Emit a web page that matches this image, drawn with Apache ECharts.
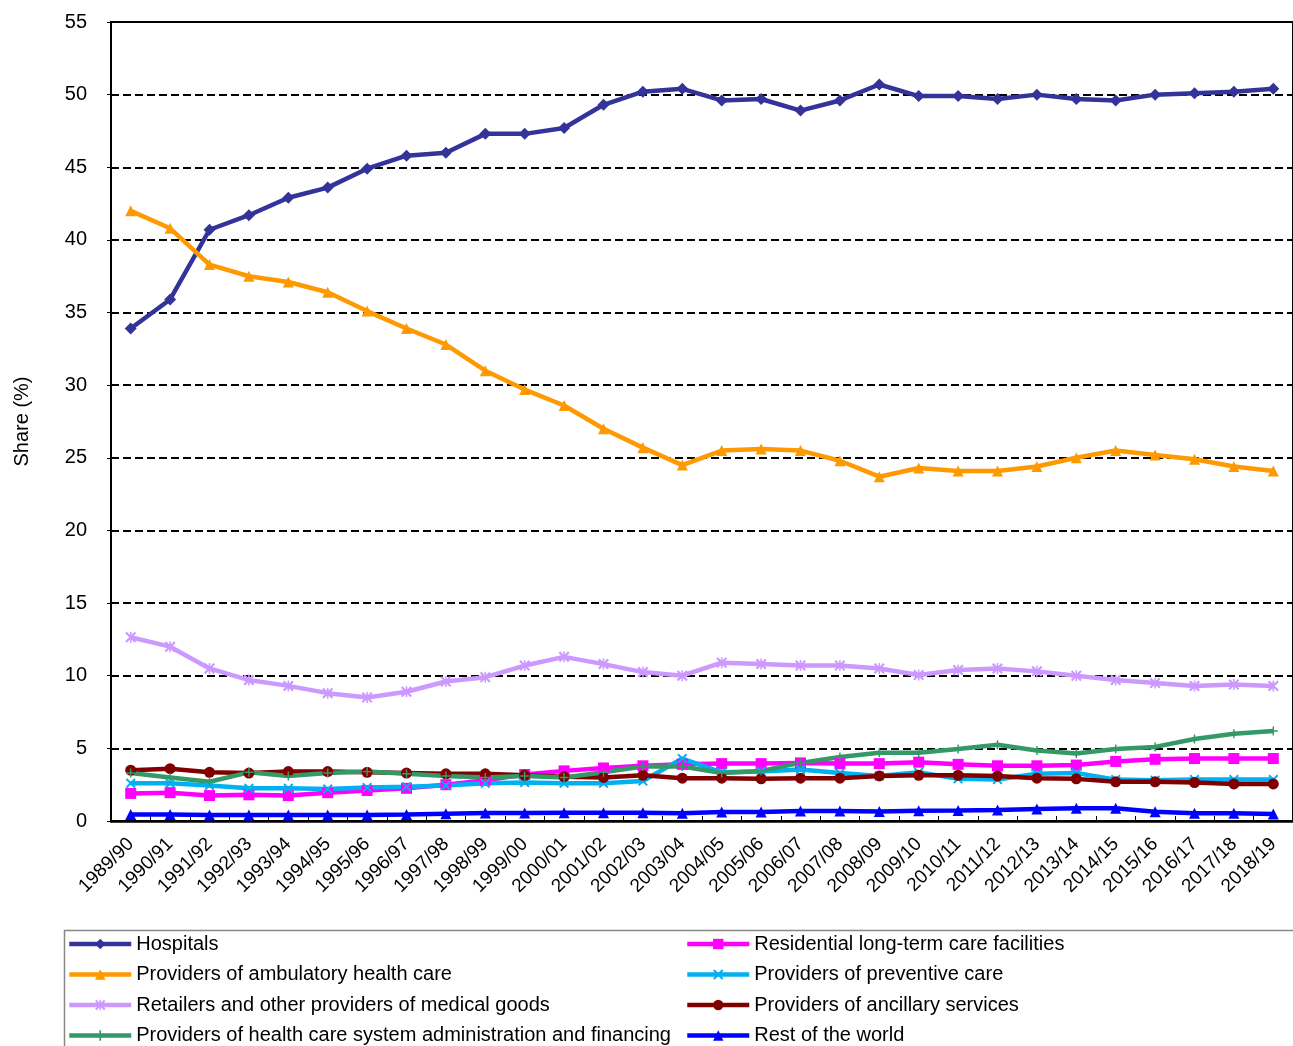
<!DOCTYPE html>
<html>
<head>
<meta charset="utf-8">
<script src="https://cdn.jsdelivr.net/npm/echarts@6/dist/echarts.min.js"></script>
<style>
html,body{margin:0;padding:0;background:#fff;}
#chart{width:1293px;height:1046px;}
</style>
</head>
<body>
<div id="chart"></div>
<script>
const categories = ["1989/90","1990/91","1991/92","1992/93","1993/94","1994/95","1995/96","1996/97","1997/98","1998/99","1999/00","2000/01","2001/02","2002/03","2003/04","2004/05","2005/06","2006/07","2007/08","2008/09","2009/10","2010/11","2011/12","2012/13","2013/14","2014/15","2015/16","2016/17","2017/18","2018/19"];

const hospitals = [33.9,35.9,40.7,41.7,42.9,43.6,44.9,45.8,46.0,47.3,47.3,47.7,49.3,50.2,50.4,49.6,49.7,48.9,49.6,50.7,49.9,49.9,49.7,50.0,49.7,49.6,50.0,50.1,50.2,50.4];
const residential = [1.9,1.95,1.75,1.8,1.75,1.95,2.1,2.25,2.5,2.8,3.2,3.45,3.65,3.8,3.9,3.95,3.95,4.0,3.95,3.95,4.05,3.9,3.8,3.8,3.85,4.1,4.25,4.3,4.3,4.3];
const ambulatory = [42.0,40.8,38.3,37.5,37.1,36.4,35.1,33.9,32.8,31.0,29.7,28.6,27.0,25.7,24.5,25.5,25.6,25.5,24.8,23.7,24.3,24.1,24.1,24.4,25.0,25.5,25.2,24.9,24.4,24.1];
const preventive = [2.6,2.6,2.45,2.25,2.25,2.2,2.3,2.35,2.45,2.6,2.65,2.6,2.6,2.75,4.3,3.35,3.4,3.55,3.3,3.1,3.35,2.9,2.85,3.25,3.3,2.85,2.8,2.85,2.85,2.85];
const retailers = [12.65,12.0,10.5,9.7,9.3,8.8,8.5,8.9,9.6,9.9,10.7,11.3,10.8,10.25,10.0,10.9,10.8,10.7,10.7,10.5,10.05,10.4,10.5,10.3,10.0,9.7,9.5,9.3,9.4,9.3];
const ancillary = [3.5,3.6,3.35,3.3,3.4,3.4,3.35,3.3,3.25,3.25,3.15,3.05,3.0,3.15,2.95,2.95,2.9,2.95,2.95,3.1,3.15,3.15,3.1,2.95,2.9,2.7,2.7,2.65,2.55,2.55];
const administration = [3.3,3.0,2.7,3.35,3.1,3.3,3.4,3.25,3.1,3.0,3.1,3.0,3.35,3.75,3.75,3.3,3.45,4.0,4.4,4.7,4.7,4.95,5.25,4.85,4.65,4.95,5.1,5.65,6.0,6.2];
const restOfWorld = [0.45,0.45,0.42,0.42,0.42,0.42,0.42,0.45,0.5,0.55,0.55,0.57,0.57,0.57,0.53,0.62,0.62,0.68,0.68,0.65,0.7,0.72,0.76,0.82,0.87,0.87,0.64,0.53,0.53,0.48];

const seriesNames = ["Hospitals","Residential long-term care facilities","Providers of ambulatory health care","Providers of preventive care","Retailers and other providers of medical goods","Providers of ancillary services","Providers of health care system administration and financing","Rest of the world"];

const FONT = '"Liberation Sans", Arial, sans-serif';
const X_SYM = 'path://M0,1.4L1.4,0L5,3.6L8.6,0L10,1.4L6.4,5L10,8.6L8.6,10L5,6.4L1.4,10L0,8.6L3.6,5Z';
const STAR_SYM = 'path://M0,1.4L1.4,0L5,3.6L8.6,0L10,1.4L6.4,5L10,8.6L8.6,10L5,6.4L1.4,10L0,8.6L3.6,5Z M4.3,0L5.7,0L5.7,10L4.3,10Z';
const PLUS_SYM = 'path://M4.2,0L5.8,0L5.8,4.2L10,4.2L10,5.8L5.8,5.8L5.8,10L4.2,10L4.2,5.8L0,5.8L0,4.2L4.2,4.2Z';

function mk(name, data, color, symbol, size) {
  return {
    name: name, type: 'line', data: data,
    symbol: symbol, symbolSize: size, showSymbol: true,
    lineStyle: {color: color, width: 4.5},
    itemStyle: {color: color},
    emphasis: {disabled: true},
    animation: false
  };
}

const legendCommon = {
  orient: 'vertical', top: 934, padding: 0, itemWidth: 62, itemHeight: 13, itemGap: 10.5,
  textStyle: {fontSize: 20, color: '#000', fontFamily: FONT},
  lineStyle: {width: 4.5},
  selectedMode: false
};

const chart = echarts.init(document.getElementById('chart'), null, {renderer: 'canvas'});
chart.setOption({
  backgroundColor: '#fff',
  animation: false,
  textStyle: {fontFamily: FONT},
  grid: {left: 111, top: 22, width: 1190, bottom: 225, show: true, borderColor: '#000', borderWidth: 2, backgroundColor: 'transparent'},
  xAxis: {
    type: 'category', data: categories, boundaryGap: true,
    axisLine: {lineStyle: {color: '#000', width: 2.5}},
    axisTick: {show: true, inside: true, length: 5, lineStyle: {color: '#000', width: 1}},
    axisLabel: {rotate: 45, fontSize: 19, color: '#000', fontFamily: FONT, margin: 20, interval: 0},
    splitLine: {show: false}
  },
  yAxis: {
    type: 'value', min: 0, max: 55, interval: 5,
    name: 'Share (%)', nameLocation: 'middle', nameRotate: 90, nameGap: 79,
    nameTextStyle: {fontSize: 20, color: '#000', fontFamily: FONT},
    axisLine: {show: true, lineStyle: {color: '#000', width: 2}},
    axisTick: {show: true, length: 4, lineStyle: {color: '#000'}},
    axisLabel: {fontSize: 20, color: '#000', fontFamily: FONT, margin: 24},
    splitLine: {show: true, lineStyle: {color: '#000', width: 2, type: [8, 4]}}
  },
  legend: [
    Object.assign({}, legendCommon, {left: 67, data: [seriesNames[0], seriesNames[2], seriesNames[4], seriesNames[6]]}),
    Object.assign({}, legendCommon, {left: 685, data: [seriesNames[1], seriesNames[3], seriesNames[5], seriesNames[7]]})
  ],
  graphic: [{
    type: 'rect', left: 62, top: 928, z: -1,
    shape: {x: 0, y: 0, width: 1300, height: 200},
    style: {fill: 'none', stroke: '#888', lineWidth: 1.5}
  }],
  series: [
    mk(seriesNames[0], hospitals, '#333399', 'diamond', 12),
    mk(seriesNames[1], residential, '#FF00FF', 'rect', 11),
    mk(seriesNames[2], ambulatory, '#FF9900', 'triangle', 11),
    mk(seriesNames[3], preventive, '#00B0F0', X_SYM, 10),
    mk(seriesNames[4], retailers, '#CC99FF', STAR_SYM, 11),
    mk(seriesNames[5], ancillary, '#800000', 'circle', 11),
    mk(seriesNames[6], administration, '#339966', PLUS_SYM, 9),
    mk(seriesNames[7], restOfWorld, '#0000FF', 'triangle', 11)
  ]
});
</script>
</body>
</html>
